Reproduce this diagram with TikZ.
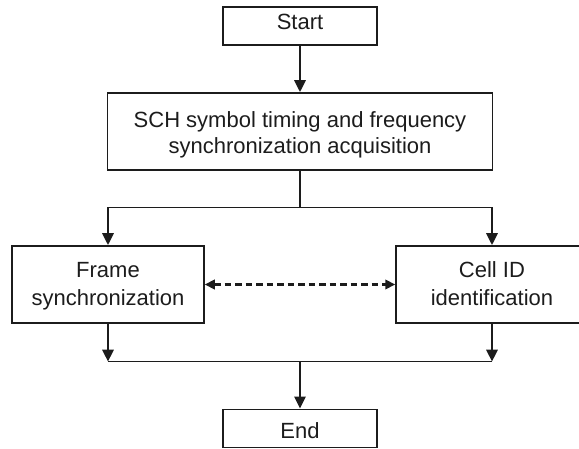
\documentclass[tikz,border=0pt]{standalone}
\usepackage{fontspec}
\setmainfont{Liberation Sans}
\usetikzlibrary{arrows.meta}
\definecolor{ink}{HTML}{1C1C1C}
\tikzset{
  box/.style={draw=ink, line width=1.5pt, rectangle, inner sep=0pt},
  txt/.style={anchor=base, inner sep=0pt, text=ink, font=\fontsize{22}{26}\selectfont},
  arr/.style={draw=ink, line width=2.9pt, -{Triangle[length=12pt,width=11pt]}},
  thinline/.style={draw=ink, line width=1.5pt},
  dasharr/.style={draw=ink, line width=2.2pt, dash pattern=on 6.5pt off 4pt,
    {Triangle[length=10pt,width=9.5pt]}-{Triangle[length=10pt,width=9.5pt]}}
}
\begin{document}
\begin{tikzpicture}[x=1pt,y=-1pt]
\useasboundingbox (0,0) rectangle (579,449);
\clip (0,0) rectangle (579,449);
% boxes
\node[box, minimum width=154pt, minimum height=38pt] (start) at (300,26) {};
\node[box, minimum width=385pt, minimum height=77pt] (sch) at (300,131.5) {};
\node[box, minimum width=192pt, minimum height=77pt] (frame) at (108,284.5) {};
\node[box, minimum width=192pt, minimum height=77pt] (cell) at (492,284.5) {};
\node[box, minimum width=154pt, minimum height=38pt] (end) at (300,428.3) {};
% texts
\node[txt] (tstart) at (300,29.8) {Start};
\node[txt] (tsch1) at (300,127.3) {SCH symbol timing and frequency};
\node[txt] (tsch2) at (300,153.3) {synchronization acquisition};
\node[txt] (tfr1) at (108,277.3) {Frame};
\node[txt] (tfr2) at (108,306) {synchronization};
\node[txt] (tce1) at (492,277.3) {Cell ID};
\node[txt] (tce2) at (492,306) {identification};
\node[txt] (tend) at (300,438.3) {End};
% connectors
\coordinate (split) at (300,207.3);
\coordinate (merge) at (300,361.7);
\draw[arr] (start) -- (sch);
\draw[thinline] (sch.south) -- (split);
\draw[thinline] (frame.north |- split) -- (cell.north |- split);
\draw[arr] (frame.north |- split) -- (frame.north);
\draw[arr] (cell.north |- split) -- (cell.north);
\draw[dasharr] (frame.east) -- (cell.west);
\draw[arr] (frame.south) -- (frame.south |- merge);
\draw[arr] (cell.south) -- (cell.south |- merge);
\draw[thinline] (frame.south |- merge) -- (cell.south |- merge);
\draw[arr] (merge) -- (end.north);
\end{tikzpicture}
\end{document}
